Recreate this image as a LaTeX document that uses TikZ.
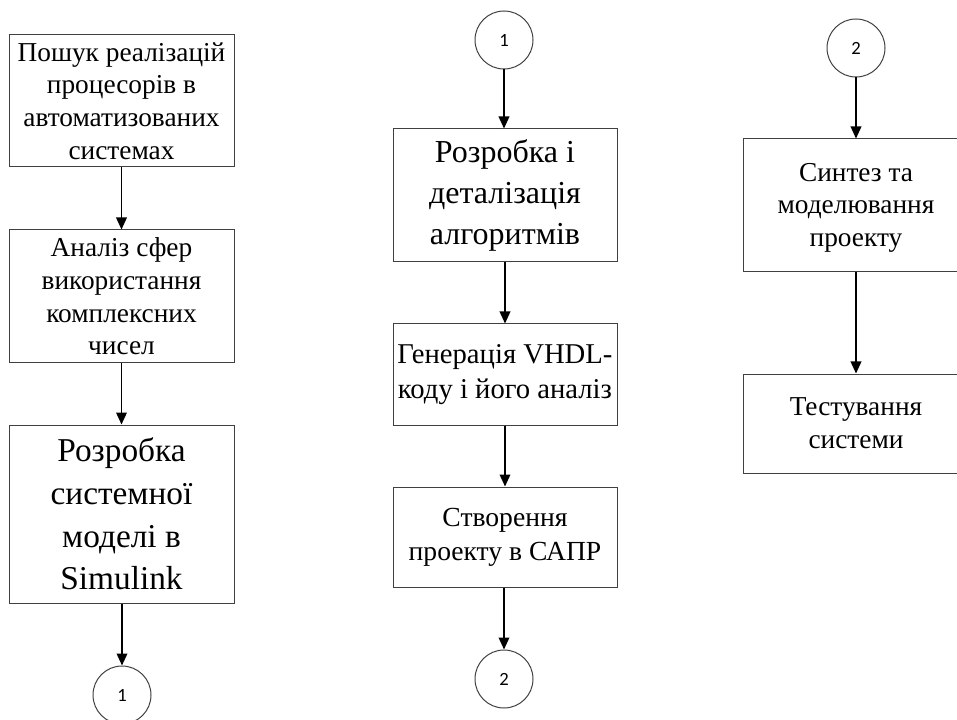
\documentclass[tikz,border=0pt]{standalone}
\usepackage{fontspec}
\setmainfont{Liberation Serif}
\newfontfamily\digitfont{Carlito}
\usetikzlibrary{arrows.meta}
\begin{document}
\begin{tikzpicture}[x=0.75pt,y=-0.75pt,
  stepbox/.style={draw=black!75,line width=0.75pt,rectangle,align=center,inner sep=0pt},
  txt/.style={font=\fontsize{20.5}{24.5}\selectfont},
  bigtxt/.style={font=\fontsize{25}{32}\selectfont},
  bigtxtb/.style={font=\fontsize{24}{31}\selectfont},
  midtxt/.style={font=\fontsize{21.5}{26}\selectfont},
  conn/.style={draw=black!75,line width=0.75pt,circle,inner sep=0pt,minimum size=43.5pt,font=\digitfont\fontsize{14}{16}\selectfont},
  flow/.style={line width=1.1pt,-{Triangle[length=9pt,width=8pt]}}]
\useasboundingbox (0,0) rectangle (957,720);
\clip (0,0) rectangle (957,720);
% left column
\node[stepbox,txt,minimum width=168.75pt,minimum height=99pt] (l1) at (121.5,101) {Пошук реалізацій\\процесорів в\\автоматизованих\\системах};
\node[stepbox,txt,minimum width=168.75pt,minimum height=99.75pt] (l2) at (121.5,296.5) {Аналіз сфер\\використання\\комплексних\\чисел};
\node[stepbox,bigtxt,minimum width=168.75pt,minimum height=133.5pt] (l3) at (121.5,514) {Розробка\\системної\\моделі в\\Simulink};
\node[conn] (c1a) at (122,695) {1};
% middle column
\node[conn] (c1b) at (504,40) {1};
\node[stepbox,bigtxtb,minimum width=168pt,minimum height=99.75pt] (m1) at (505,195.5) {Розробка і\\деталізація\\алгоритмів};
\node[stepbox,midtxt,minimum width=168pt,minimum height=75.75pt] (m2) at (505,374.5) {Генерація VHDL-\\коду і його аналіз};
\node[stepbox,midtxt,font=\fontsize{20.7}{25.5}\selectfont,minimum width=168pt,minimum height=75pt] (m3) at (505,537) {Створення\\проекту в САПР};
\node[conn] (c2a) at (504,679) {2};
% right column
\node[conn] (c2b) at (856,48) {2};
\node[stepbox,txt,minimum width=169.5pt,minimum height=99.75pt] (r1) at (856,205.5) {\strut Синтез та\\моделювання\\проекту};
\node[stepbox,txt,minimum width=169.5pt,minimum height=74.25pt] (r2) at (856,423.5) {Тестування\\системи};
% connectors
\draw[flow] (l1) -- (l2);
\draw[flow] (l2) -- (l3);
\draw[flow] (l3.south -| c1a) -- (c1a);
\draw[flow] (c1b) -- (c1b |- m1.north);
\draw[flow] (m1) -- (m2);
\draw[flow] (m2) -- (m3);
\draw[flow] (m3.south -| c2a) -- (c2a);
\draw[flow] (c2b) -- (r1);
\draw[flow] (r1) -- (r2);
\end{tikzpicture}
\end{document}
